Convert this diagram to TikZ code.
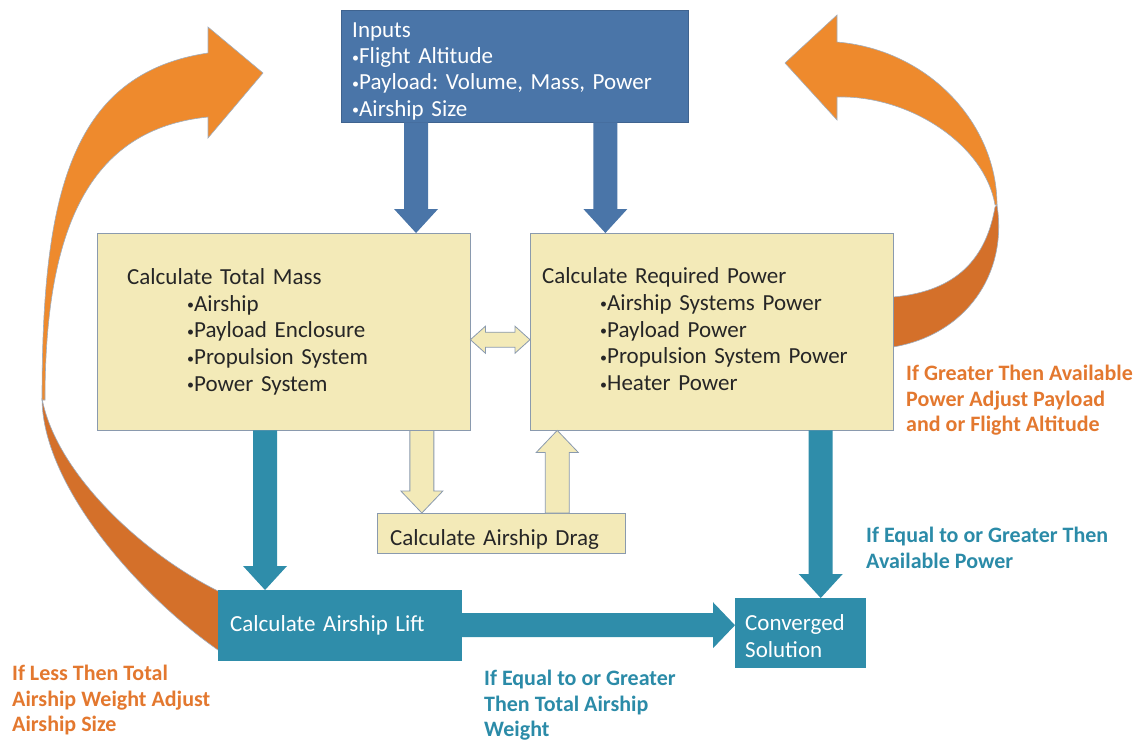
\documentclass[tikz,border=0pt]{standalone}
\usepackage{fontspec}
\setmainfont{Carlito}
\usetikzlibrary{calc}
\frenchspacing

\definecolor{inblue}{HTML}{4A75A8}
\definecolor{calcyellow}{HTML}{F3EAB8}
\definecolor{liftteal}{HTML}{2F8DAA}
\definecolor{looplight}{HTML}{EE8A2D}
\definecolor{loopdark}{HTML}{D4702A}
\definecolor{edgegrey}{HTML}{8A9AAE}
\definecolor{lblorange}{HTML}{E3782F}
\definecolor{lblteal}{HTML}{2B8BA8}

\newcommand{\bul}{\raisebox{1.5pt}{\fontsize{14}{14}\selectfont•}}

% block arrow from #2 to #3: shaft half width #4, head half width #5, head length #6
\newcommand{\fatarrow}[6][]{%
  \pgfmathsetmacro\fasl{sqrt((#6)^2+(#4)^2)}%
  \pgfmathsetmacro\fats{atan((#4)/(#6))}%
  \pgfmathsetmacro\fahl{sqrt((#6)^2+(#5)^2)}%
  \pgfmathsetmacro\fath{atan((#5)/(#6))}%
  \path[#1] ($(#2)!#4pt!-90:(#3)$) -- ($(#3)!\fasl pt!\fats:(#2)$)
    -- ($(#3)!\fahl pt!\fath:(#2)$) -- (#3) -- ($(#3)!\fahl pt!-\fath:(#2)$)
    -- ($(#3)!\fasl pt!-\fats:(#2)$) -- ($(#2)!#4pt!90:(#3)$) -- cycle;}
% same with a head at both ends
\newcommand{\fatdarrow}[6][]{%
  \pgfmathsetmacro\fasl{sqrt((#6)^2+(#4)^2)}%
  \pgfmathsetmacro\fats{atan((#4)/(#6))}%
  \pgfmathsetmacro\fahl{sqrt((#6)^2+(#5)^2)}%
  \pgfmathsetmacro\fath{atan((#5)/(#6))}%
  \path[#1] (#2) -- ($(#2)!\fahl pt!\fath:(#3)$) -- ($(#2)!\fasl pt!\fats:(#3)$)
    -- ($(#3)!\fasl pt!-\fats:(#2)$) -- ($(#3)!\fahl pt!-\fath:(#2)$) -- (#3)
    -- ($(#3)!\fahl pt!\fath:(#2)$) -- ($(#3)!\fasl pt!\fats:(#2)$)
    -- ($(#2)!\fasl pt!-\fats:(#3)$) -- ($(#2)!\fahl pt!-\fath:(#3)$) -- cycle;}

\tikzset{
  box/.style={rectangle, anchor=north west, align=left, inner ysep=0pt,
    font=\fontsize{23}{26.7}\selectfont},
  inbox/.style={box, fill=inblue, draw=inblue!85!black, text=white,
    font=\fontsize{23}{26.3}\selectfont},
  calcbox/.style={box, fill=calcyellow, draw=edgegrey, text=black!85},
  tealbox/.style={box, fill=liftteal, draw=liftteal, text=white},
  lbl/.style={anchor=north west, align=left, inner sep=0pt,
    font=\bfseries\fontsize{22}{25.5}\selectfont},
  bluearrow/.style={fill=inblue},
  tealarrow/.style={fill=liftteal},
  yelarrow/.style={fill=calcyellow, draw=edgegrey, line width=0.8pt},
  loopband/.style={draw=edgegrey!80, line width=0.6pt}
}

\begin{document}
\begin{tikzpicture}[x=1pt,y=-1pt]
\useasboundingbox (0,0) rectangle (1143,742);

% feedback loops
\path[loopband, fill=loopdark] (225,650) -- (218,650) .. controls (138,594) and (42,485) .. (42,398)
  .. controls (55,470) and (138,551) .. (218,591) -- (225,591) -- cycle;
\path[loopband, fill=looplight] (42,400) .. controls (42,200) and (68,74) .. (208,53)
  -- (208,27) -- (263,73) -- (208,138) -- (208,117) .. controls (88,129) and (45,230) .. (45,400) -- cycle;
\path[loopband, fill=looplight] (997,205) .. controls (997,125) and (930,50) .. (837,42)
  -- (837,15) -- (785,63) -- (837,120) -- (837,97) .. controls (910,95) and (985,145) .. (995,205) -- cycle;
\path[loopband, fill=loopdark] (997,205) .. controls (1008,275) and (965,335) .. (893,347) -- (886,347)
  -- (886,297) -- (893,297) .. controls (950,292) and (985,265) .. (995,207) -- cycle;

\node[inbox, text width=325pt, inner xsep=11pt, minimum height=112pt] (inputs) at (341,10)
  {\rule{0pt}{25pt}Inputs\\\bul Flight Altitude\\\bul Payload: Volume, Mass, Power\\\bul Airship Size};
\node[calcbox, text width=313pt, inner xsep=30pt, minimum height=197pt] (mass) at (97,233)
  {Calculate Total Mass\\\hspace*{60pt}\bul Airship\\\hspace*{60pt}\bul Payload Enclosure\\
   \hspace*{60pt}\bul Propulsion System\\\hspace*{60pt}\bul Power System};
\node[calcbox, text width=339pt, inner xsep=12pt, minimum height=197pt] (power) at (530,233)
  {Calculate Required Power\\\hspace*{58pt}\bul Airship Systems Power\\\hspace*{58pt}\bul Payload Power\\
   \hspace*{58pt}\bul Propulsion System Power\\\hspace*{58pt}\bul Heater Power\rule[-5pt]{0pt}{5pt}};
\node[calcbox, text width=222pt, inner xsep=13pt, minimum height=40pt] (drag) at (377,513)
  {\rule{0pt}{29pt}Calculate Airship Drag};
\node[tealbox, text width=219pt, inner xsep=12pt, minimum height=70pt] (lift) at (218,590)
  {Calculate Airship Lift};
\node[tealbox, text width=110pt, inner xsep=10pt, minimum height=69pt] (conv) at (735,598)
  {\rule{0pt}{23pt}Converged\\Solution};

% arrows
\coordinate (in1) at ($(inputs.south west)!0.216!(inputs.south east)$);
\coordinate (in2) at ($(inputs.south west)!0.761!(inputs.south east)$);
\fatarrow[bluearrow]{in1}{in1 |- mass.north}{12}{22}{24}
\fatarrow[bluearrow]{in2}{in2 |- power.north}{12}{22}{24}

\coordinate (m1) at ($(mass.south west)!0.45!(mass.south east)$);
\coordinate (m2) at ($(mass.south west)!0.87!(mass.south east)$);
\coordinate (p1) at ($(power.south west)!0.80!(power.south east)$);
\coordinate (p2) at ($(power.south west)!0.075!(power.south east)$);
\fatarrow[tealarrow]{m1}{m1 |- lift.north}{12}{22}{24}
\fatarrow[tealarrow]{p1}{p1 |- conv.north}{12}{22}{24}
\fatarrow[tealarrow]{lift.east}{lift.east -| conv.west}{12}{23}{22}
\fatarrow[yelarrow]{m2}{m2 |- drag.north}{12}{21}{22}
\fatarrow[yelarrow]{p2 |- drag.north}{p2}{12}{21}{22}

\coordinate (dl) at ([yshift=-8pt]mass.east);
\coordinate (dr) at ([yshift=-8pt]power.west);
\fatdarrow[yelarrow]{dl}{dr}{7.5}{13.5}{15}

% conditions
\node[lbl, text=lblorange] (lblpower) at (906,365)
  {If Greater Then Available\\Power Adjust Payload\\and or Flight Altitude};
\node[lbl, text=lblteal] (lblconv) at (866,527)
  {If Equal to or Greater Then\\Available Power};
\node[lbl, text=lblteal] (lblweight) at (484,670)
  {If Equal to or Greater\\Then Total Airship\\Weight};
\node[lbl, text=lblorange] (lblsize) at (12,665)
  {If Less Then Total\\Airship Weight Adjust\\Airship Size};
\end{tikzpicture}
\end{document}
